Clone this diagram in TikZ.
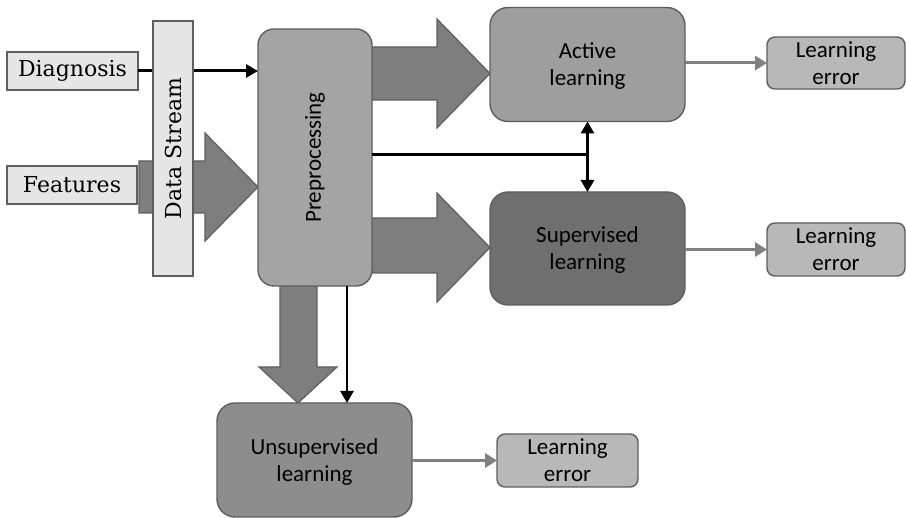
\documentclass[tikz,border=0pt]{standalone}
\usepackage{fontspec}
\newfontfamily\calfont{Carlito}
\newfontfamily\inputfont{DejaVu Serif}
\usetikzlibrary{arrows.meta}
\definecolor{edge}{HTML}{5E5E5E}
\definecolor{paper}{HTML}{E6E6E6}
\definecolor{prepfill}{HTML}{A4A4A4}
\definecolor{blockfill}{HTML}{7E7E7E}
\definecolor{activefill}{HTML}{9E9E9E}
\definecolor{supfill}{HTML}{6F6F6F}
\definecolor{unsupfill}{HTML}{8D8D8D}
\definecolor{errfill}{HTML}{B8B8B8}
\definecolor{thinarrow}{HTML}{808080}
\tikzset{
  box/.style={draw=edge, line width=1.4pt, inner sep=0pt, outer sep=0pt, align=center, text depth=0pt},
  inbox/.style={box, fill=paper, rounded corners=0pt, font=\inputfont\fontsize{22}{26}\selectfont},
  procbox/.style={box, rounded corners=18pt, font=\calfont\fontsize{23}{27}\selectfont},
  errbox/.style={box, fill=errfill, rounded corners=8pt, font=\calfont\fontsize{23}{27}\selectfont},
  blockarrow/.style={fill=blockfill, draw=edge, line width=1.2pt, line join=miter},
  blacktip/.style={Triangle[length=12pt,width=13pt]},
  blackline/.style={draw=black, line width=3pt},
  blackflow/.style={blackline, -{Triangle[length=12pt,width=13pt]}},
  greyflow/.style={draw=thinarrow, line width=3pt, -{Triangle[length=12pt,width=14pt]}},
}
\begin{document}
\begin{tikzpicture}[x=1pt,y=-1pt]
\useasboundingbox[fill=white] (0,0) rectangle (906,518);

% wide arrows (drawn first so the boxes cover their roots)
\draw[blockarrow] (139,161) -- (205,161) -- (205,133) -- (258,187) -- (205,241) -- (205,213) -- (139,213) -- cycle;
\draw[blockarrow] (370,47) -- (437,47) -- (437,19) -- (490,73.5) -- (437,128) -- (437,100) -- (370,100) -- cycle;
\draw[blockarrow] (370,218) -- (437,218) -- (437,193) -- (490,247.5) -- (437,302) -- (437,273) -- (370,273) -- cycle;
\draw[blockarrow] (280,283) -- (280,367) -- (259,367) -- (298,403) -- (337,367) -- (317,367) -- (317,283) -- cycle;

% input boxes
\node[inbox, minimum width=131pt, minimum height=38pt, text depth=] (diag) at (72.5,71) {Diagnosis};
\node[inbox, minimum width=130pt, minimum height=38pt, text depth=] (feat) at (72,185) {Features};

% processing boxes
\node[procbox, fill=prepfill, rounded corners=16pt, minimum width=114pt, minimum height=257pt] (prep) at (315,157.5) {};
\node[font=\calfont\fontsize{23}{27}\selectfont, rotate=90] at (prep.center) {Preprocessing};
\node[procbox, fill=activefill, minimum width=195pt, minimum height=114pt] (active) at (587.5,64.5) {Active\\learning};
\node[procbox, fill=supfill, minimum width=195pt, minimum height=113pt] (sup) at (587.5,248.5) {Supervised\\learning};
\node[procbox, fill=unsupfill, minimum width=195pt, minimum height=114pt] (unsup) at (314.5,460) {Unsupervised\\learning};

% outputs
\node[errbox, minimum width=138pt, minimum height=52pt] (err1) at (836,63) {Learning\\error};
\node[errbox, minimum width=138pt, minimum height=53pt] (err2) at (836,249.5) {Learning\\error};
\node[errbox, minimum width=141pt, minimum height=53pt] (err3) at (567.5,460.5) {Learning\\error};

% thin connectors
\draw[blackflow] (diag.east) -- (prep.west |- diag.east);
\coordinate (split) at (587,155);
\draw[blackline] (prep.east |- split) -- (split);
\draw[blackline, {Triangle[length=12pt,width=13pt]}-{Triangle[length=12pt,width=13pt]}] (active.south) -- (sup.north);
\coordinate (dropA) at (347,286);
\draw[blackflow, line width=2.4pt] (dropA) -- (dropA |- unsup.north);

\draw[greyflow] (active.east |- err1.west) -- (err1.west);
\draw[greyflow] (sup.east |- err2.west) -- (err2.west);
\draw[greyflow] (unsup.east |- err3.west) -- (err3.west);

% data stream bar on top of the input lines
\node[inbox, minimum width=40pt, minimum height=255pt] (stream) at (173,148.5) {};
\node[font=\inputfont\fontsize{22}{26}\selectfont, rotate=90] at (stream.center) {Data Stream};
\end{tikzpicture}
\end{document}
